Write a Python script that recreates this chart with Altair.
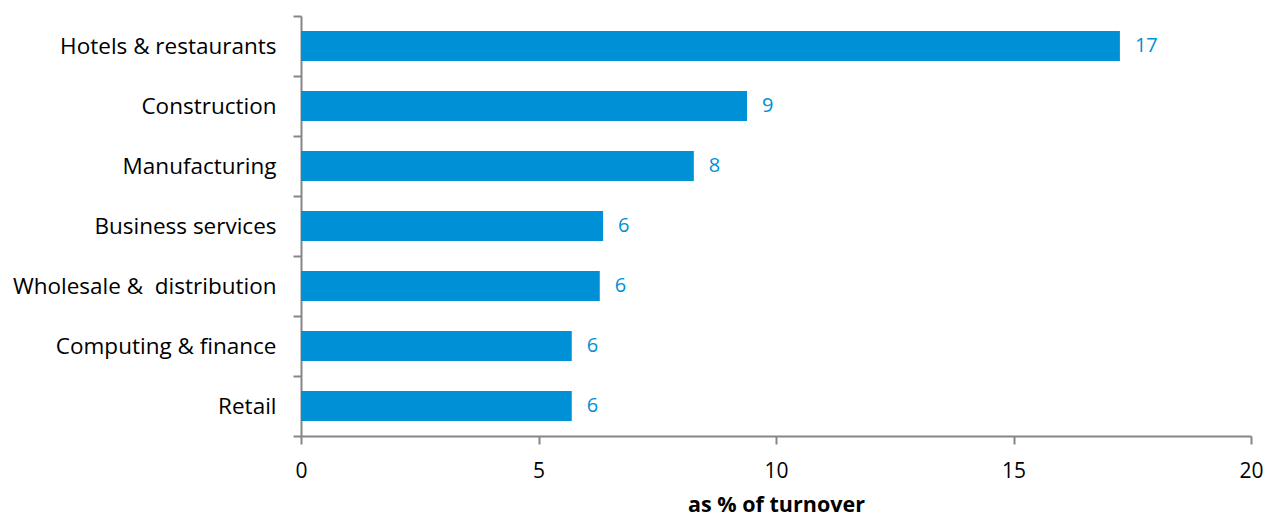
import altair as alt
import pandas as pd

categories = ["Hotels & restaurants", "Construction", "Manufacturing", "Business services",
              "Wholesale &\u00a0 distribution", "Computing & finance", "Retail"]
values = [17.24, 9.39, 8.27, 6.36, 6.29, 5.70, 5.70]
labels = ["17", "9", "8", "6", "6", "6", "6"]

df = pd.DataFrame({"cat": categories, "val": values, "lab": labels})

FONT = "Open Sans"
BLUE = "#0090d6"
AXIS = "#868686"

y = alt.Y("cat:N", sort=categories, title=None,
          scale=alt.Scale(paddingInner=0, paddingOuter=0),
          axis=alt.Axis(tickBand="extent", domainColor=AXIS, tickColor=AXIS, tickSize=8,
                        domainWidth=2, tickWidth=2,
                        labelFont=FONT, labelFontSize=22.5, labelColor="#000000",
                        labelPadding=17, labelLimit=320))
x = alt.X("val:Q", title="as % of turnover",
          scale=alt.Scale(domain=[0, 20], nice=False),
          axis=alt.Axis(values=[0, 5, 10, 15, 20], grid=False, domainColor=AXIS, tickColor=AXIS,
                        tickSize=8, domainWidth=2, tickWidth=2, labelFlush=False,
                        labelFont=FONT, labelFontSize=21, labelColor="#000000", labelPadding=16,
                        titleFont=FONT, titleFontSize=21.5, titleFontWeight="bold",
                        titleColor="#000000", titlePadding=13))

bars = alt.Chart(df).mark_bar(color=BLUE, height=alt.RelativeBandSize(0.5)).encode(x=x, y=y)
text = alt.Chart(df).mark_text(align="left", baseline="middle", dx=15, font=FONT,
                               fontSize=20, color=BLUE).encode(
    x="val:Q", y=alt.Y("cat:N", sort=categories), text="lab:N")

chart = (bars + text).properties(
    width=950, height=420,
    autosize=alt.AutoSizeParams(type="none"),
    padding={"left": 301, "top": 16, "right": 25, "bottom": 80},
).configure_view(stroke=None)

chart.save("out.html", embed_options={"renderer": "svg", "actions": False})
